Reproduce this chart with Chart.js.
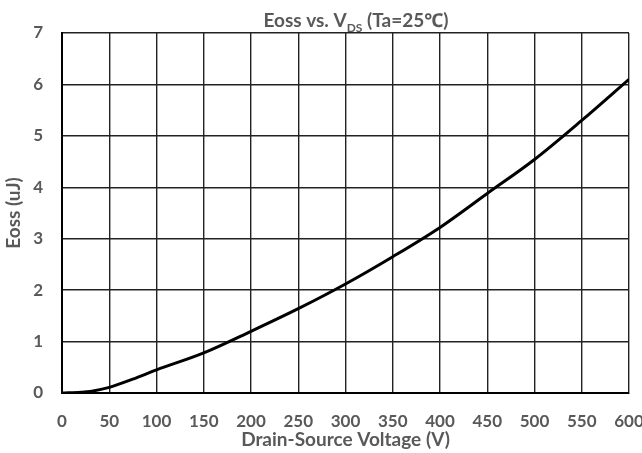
<!DOCTYPE html>
<html>
<head>
<meta charset="utf-8">
<script src="https://cdn.jsdelivr.net/npm/chart.js@4/dist/chart.umd.min.js"></script>
<style>
  html, body { margin: 0; padding: 0; background: #fff; overflow: hidden; }
  #wrap { width: 680px; height: 453px; }
</style>
</head>
<body>
<div id="wrap"><canvas id="eossChart" width="680" height="453"></canvas></div>
<script>
const voltage = [0, 20, 30, 40, 50, 75, 100, 150, 200, 250, 300, 350, 400, 450, 500, 550, 600];
const eoss = [0, 0.015, 0.03, 0.065, 0.11, 0.27, 0.45, 0.78, 1.2, 1.64, 2.12, 2.65, 3.22, 3.88, 4.54, 5.3, 6.1];
const xTicks = [0, 50, 100, 150, 200, 250, 300, 350, 400, 450, 500, 550, 600];
const yTicks = [0, 1, 2, 3, 4, 5, 6, 7];

const textColor = '#595959';
const fontFamily = 'Lato, "Noto Sans", sans-serif';

// title with subscript, drawn on top of the chart area
const titlePlugin = {
  id: 'subTitle',
  afterDraw(chart) {
    const ctx = chart.ctx;
    const big = 'bold 19px ' + fontFamily;
    const small = 'bold 12px ' + fontFamily;
    const parts = [
      { text: 'Eoss vs. V', font: big, dy: 0 },
      { text: 'DS', font: small, dy: 5 },
      { text: ' (Ta=25℃)', font: big, dy: 0 },
    ];
    ctx.save();
    let total = 0;
    parts.forEach((p) => {
      ctx.font = p.font;
      p.w = ctx.measureText(p.text).width;
      total += p.w;
    });
    let x = 356 - total / 2;
    const baseY = 27;
    ctx.fillStyle = textColor;
    ctx.textBaseline = 'alphabetic';
    ctx.textAlign = 'left';
    parts.forEach((p) => {
      ctx.font = p.font;
      ctx.fillText(p.text, x, baseY + p.dy);
      x += p.w;
    });
    ctx.restore();
  },
};

const ctx = document.getElementById('eossChart').getContext('2d');
new Chart(ctx, {
  type: 'line',
  data: {
    datasets: [
      {
        label: 'Eoss',
        data: voltage.map((v, i) => ({ x: v, y: eoss[i] })),
        borderColor: '#000',
        borderWidth: 3,
        pointRadius: 0,
        cubicInterpolationMode: 'monotone',
        fill: false,
      },
    ],
  },
  options: {
    responsive: false,
    animation: false,
    layout: { padding: { left: 0, top: 33, right: 51, bottom: 0 } },
    plugins: {
      legend: { display: false },
      tooltip: { enabled: false },
    },
    scales: {
      x: {
        type: 'linear',
        min: 0,
        max: 600,
        afterBuildTicks: (scale) => {
          scale.ticks = xTicks.map((v) => ({ value: v }));
        },
        afterFit: (scale) => { scale.height = 60; },
        grid: { color: '#222', lineWidth: 1.4, drawTicks: false },
        border: { color: '#000', width: 2 },
        ticks: {
          color: textColor,
          padding: 18,
          maxRotation: 0,
          autoSkip: false,
          font: { family: fontFamily, size: 17, weight: 'bold' },
        },
        title: {
          display: true,
          text: 'Drain-Source Voltage (V)',
          color: textColor,
          padding: { top: 0, bottom: 2 },
          font: { family: fontFamily, size: 19, weight: 'bold' },
        },
      },
      y: {
        min: 0,
        max: 7,
        afterBuildTicks: (scale) => {
          scale.ticks = yTicks.map((v) => ({ value: v }));
        },
        afterFit: (scale) => { scale.width = 62; },
        grid: { color: '#222', lineWidth: 1.4, drawTicks: false },
        border: { color: '#000', width: 2 },
        ticks: {
          color: textColor,
          padding: 19,
          font: { family: fontFamily, size: 17, weight: 'bold' },
        },
        title: {
          display: true,
          text: 'Eoss (uJ)',
          color: textColor,
          padding: { top: 2, bottom: 0 },
          font: { family: fontFamily, size: 19, weight: 'bold' },
        },
      },
    },
  },
  plugins: [titlePlugin],
});
</script>
</body>
</html>
